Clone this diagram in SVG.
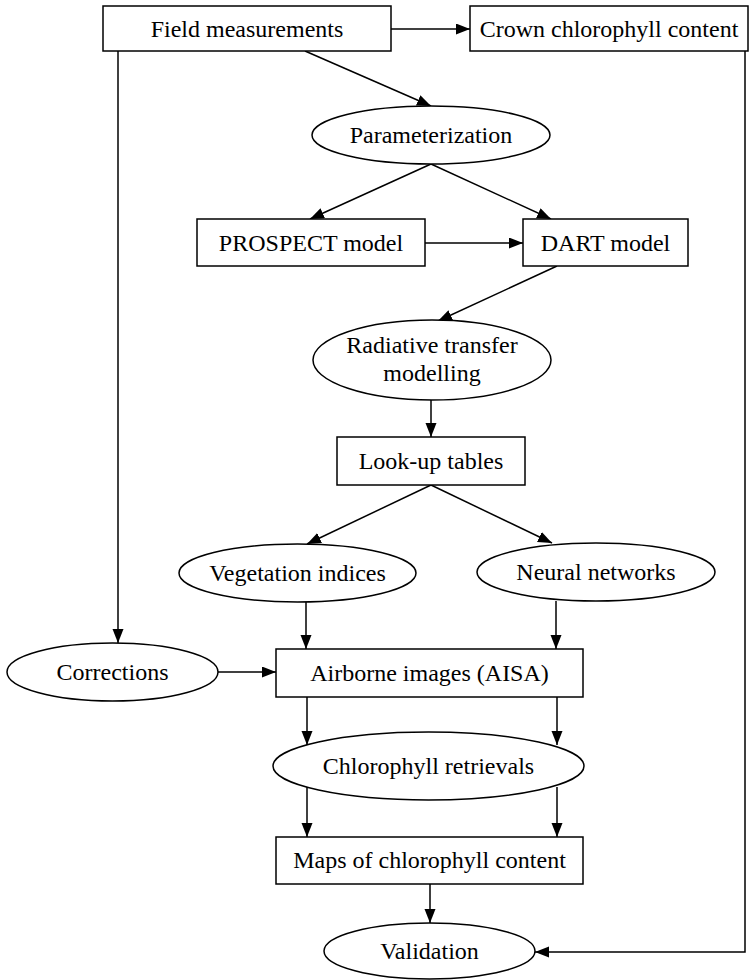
<svg xmlns="http://www.w3.org/2000/svg" width="752" height="980" viewBox="0 0 752 980">
  <style>
    .shape { fill: #ffffff; stroke: #000000; stroke-width: 1.5; }
    .label { font-family: "Liberation Serif", "DejaVu Serif", serif; font-size: 24px; fill: #000000; text-anchor: middle; }
    .edge { fill: none; stroke: #000000; stroke-width: 1.5; marker-end: url(#arrow); }
  </style>
  <defs>
    <marker id="arrow" markerUnits="userSpaceOnUse" markerWidth="16" markerHeight="12" refX="14" refY="5.5" orient="auto">
      <path d="M0,0 L14,5.5 L0,11 z" fill="#000000"/>
    </marker>
  </defs>
  <rect width="752" height="980" fill="#ffffff"/>

  <!-- connectors -->
  <g id="edges">
    <line class="edge" x1="391" y1="29" x2="470" y2="29"/>
    <line class="edge" x1="305" y1="51" x2="431" y2="106"/>
    <line class="edge" x1="118" y1="51" x2="118" y2="643"/>
    <polyline class="edge" points="745,51 745,952 535,952"/>
    <line class="edge" x1="431" y1="164" x2="310" y2="219"/>
    <line class="edge" x1="431" y1="164" x2="551" y2="219"/>
    <line class="edge" x1="425" y1="243" x2="523" y2="243"/>
    <line class="edge" x1="557" y1="266" x2="438" y2="321"/>
    <line class="edge" x1="431" y1="400" x2="431" y2="437"/>
    <line class="edge" x1="431" y1="485" x2="307" y2="544"/>
    <line class="edge" x1="431" y1="485" x2="552" y2="543"/>
    <line class="edge" x1="306" y1="602" x2="306" y2="649"/>
    <line class="edge" x1="556" y1="601" x2="556" y2="649"/>
    <line class="edge" x1="218" y1="672" x2="276" y2="672"/>
    <line class="edge" x1="307" y1="697" x2="307" y2="745"/>
    <line class="edge" x1="557" y1="697" x2="557" y2="745"/>
    <line class="edge" x1="307" y1="787" x2="307" y2="837"/>
    <line class="edge" x1="557" y1="787" x2="557" y2="837"/>
    <line class="edge" x1="430" y1="884" x2="430" y2="923"/>
  </g>

  <!-- nodes -->
  <g id="field">
    <rect class="shape" x="103" y="6" width="288" height="45"/>
    <text class="label" x="247" y="37">Field measurements</text>
  </g>
  <g id="crown">
    <rect class="shape" x="470" y="6" width="278" height="45"/>
    <text class="label" x="609" y="37">Crown chlorophyll content</text>
  </g>
  <g id="param">
    <ellipse class="shape" cx="431" cy="135" rx="119" ry="29"/>
    <text class="label" x="431" y="143">Parameterization</text>
  </g>
  <g id="prospect">
    <rect class="shape" x="197" y="219" width="228" height="47"/>
    <text class="label" x="311" y="251">PROSPECT model</text>
  </g>
  <g id="dart">
    <rect class="shape" x="523" y="219" width="165" height="47"/>
    <text class="label" x="605.5" y="251">DART model</text>
  </g>
  <g id="rtm">
    <ellipse class="shape" cx="432" cy="360" rx="119" ry="40"/>
    <text class="label" x="432" y="353">Radiative transfer</text>
    <text class="label" x="432" y="381">modelling</text>
  </g>
  <g id="lut">
    <rect class="shape" x="337" y="437" width="188" height="48"/>
    <text class="label" x="431" y="469">Look-up tables</text>
  </g>
  <g id="vi">
    <ellipse class="shape" cx="297.5" cy="573" rx="118.5" ry="29"/>
    <text class="label" x="297.5" y="581">Vegetation indices</text>
  </g>
  <g id="nn">
    <ellipse class="shape" cx="596" cy="572" rx="119" ry="29"/>
    <text class="label" x="596" y="580">Neural networks</text>
  </g>
  <g id="corrections">
    <ellipse class="shape" cx="112.5" cy="672" rx="105.5" ry="29"/>
    <text class="label" x="112.5" y="680">Corrections</text>
  </g>
  <g id="aisa">
    <rect class="shape" x="276" y="649" width="307" height="48"/>
    <text class="label" x="429.5" y="681">Airborne images (AISA)</text>
  </g>
  <g id="retrievals">
    <ellipse class="shape" cx="428.5" cy="766" rx="155.5" ry="34"/>
    <text class="label" x="428.5" y="774">Chlorophyll retrievals</text>
  </g>
  <g id="maps">
    <rect class="shape" x="276" y="837" width="307" height="47"/>
    <text class="label" x="429.5" y="868">Maps of chlorophyll content</text>
  </g>
  <g id="validation">
    <ellipse class="shape" cx="429.5" cy="951" rx="105.5" ry="28"/>
    <text class="label" x="429.5" y="959">Validation</text>
  </g>
</svg>
